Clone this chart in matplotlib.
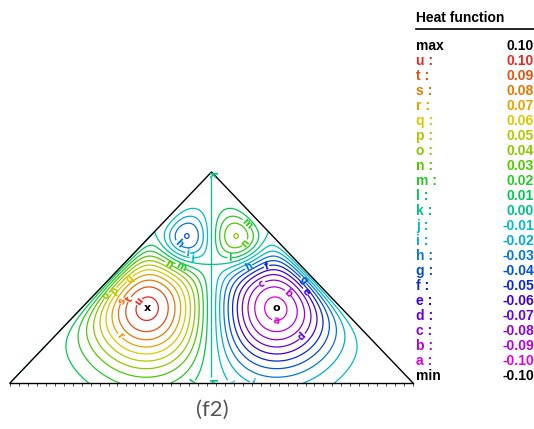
import numpy as np
import matplotlib.pyplot as plt
from matplotlib.lines import Line2D

# contour levels and their letter codes (a = -0.10 ... u = 0.10)
levels = [-0.10, -0.09, -0.08, -0.07, -0.06, -0.05, -0.04, -0.03, -0.02, -0.01,
          0.00, 0.01, 0.02, 0.03, 0.04, 0.05, 0.06, 0.07, 0.08, 0.09, 0.10]
letters = ["a", "b", "c", "d", "e", "f", "g", "h", "i", "j", "k",
           "l", "m", "n", "o", "p", "q", "r", "s", "t", "u"]
value_labels = ["-0.10", "-0.09", "-0.08", "-0.07", "-0.06", "-0.05", "-0.04", "-0.03",
                "-0.02", "-0.01", "0.00", "0.01", "0.02", "0.03", "0.04", "0.05",
                "0.06", "0.07", "0.08", "0.09", "0.10"]
colors = ["#dd00dd", "#b400dc", "#9000dc", "#6a00dc", "#3c00dc", "#0a28d2", "#0050dc",
          "#0078dc", "#00aadc", "#00bebe", "#00c08c", "#00c850", "#28c828", "#50c800",
          "#8cc800", "#b4c800", "#dcc800", "#e6a000", "#e67800", "#e65014", "#e6281e"]

# four cells (centre, strength, spread)
cell_x = [-0.315, 0.315, -0.14, 0.14]
cell_y = [0.36, 0.36, 0.685, 0.685]
cell_amp = [1.0, -1.0, -0.6, 0.6]
cell_sx = [0.22, 0.22, 0.105, 0.105]
cell_sy = [0.21, 0.21, 0.10, 0.10]
wall_layer = 0.05
peak_value = 0.104


def heat_field(X, Y):
    dl = np.clip(1 - Y + X, 0, None) / np.sqrt(2)
    dr = np.clip(1 - Y - X, 0, None) / np.sqrt(2)
    wall = (1 - np.exp(-dl / wall_layer)) * (1 - np.exp(-dr / wall_layer))
    s = np.zeros_like(X)
    for cx, cy, a, sx, sy in zip(cell_x, cell_y, cell_amp, cell_sx, cell_sy):
        s += a * np.exp(-((X - cx) ** 2 / (2 * sx ** 2) + (Y - cy) ** 2 / (2 * sy ** 2)))
    f = wall * s
    f = f * peak_value / f.max()
    inside = (Y <= 1 - np.abs(X))
    return np.ma.masked_where(~inside, f)


W, H = 534, 429
fig = plt.figure(figsize=(W / 100, H / 100), dpi=100)
ax = fig.add_axes([10 / W, (H - 383) / H, 403 / W, 211 / H])

x = np.linspace(-1, 1, 601)
y = np.linspace(0, 1, 301)
X, Y = np.meshgrid(x, y)
F = heat_field(X, Y)

cs = ax.contour(X, Y, F, levels=levels, colors=colors, linewidths=0.9)
fmt = {lv: lt for lv, lt in zip(cs.levels, letters)}
texts = ax.clabel(cs, fmt=fmt, fontsize=7, inline=True, inline_spacing=1)
for t in texts:
    t.set_fontweight("bold")

# extrema markers
iy, ix = np.unravel_index(np.argmax(F), F.shape)
ax.text(x[ix], y[iy], "x", ha="center", va="center", fontsize=8, fontweight="bold", color="black")
iy, ix = np.unravel_index(np.argmin(F), F.shape)
ax.text(x[ix], y[iy], "o", ha="center", va="center", fontsize=8, fontweight="bold", color="black")

# triangle walls
ax.plot([-1, 0, 1], [0, 1, 0], color="black", lw=1, clip_on=False)
ax.set_xlim(-1, 1)
ax.set_ylim(0, 1)
for side in ["top", "left", "right"]:
    ax.spines[side].set_visible(False)
ax.spines["bottom"].set_linewidth(1)
ax.set_xticks(np.linspace(-1, 1, 46))
ax.tick_params(axis="x", length=2, width=0.5, direction="out", labelbottom=False)
ax.set_yticks([])

fig.text(212 / W, 1 - 410 / H, "(f2)", ha="center", va="center", fontsize=16,
         color="#555555", family="Lato")

# legend panel on the right
lfont = dict(family="Liberation Sans", fontsize=10, fontweight="bold")
fig.text(416 / W, 1 - 18 / H, "Heat function", ha="left", va="center", **lfont)
fig.add_artist(Line2D([416 / W, 1], [1 - 29 / H, 1 - 29 / H], color="black", lw=1.2))

rows = [("max", "0.10", "black")]
for lt, vl, c in zip(letters[::-1], value_labels[::-1], colors[::-1]):
    rows.append((lt + " :", vl, c))
rows.append(("min", "-0.10", "black"))
for i, (name, val, c) in enumerate(rows):
    yy = 1 - (46 + 15 * i) / H
    fig.text(416 / W, yy, name, ha="left", va="center", color=c, **lfont)
    fig.text(534 / W, yy, val, ha="right", va="center", color=c, **lfont)

fig.savefig("out.png", dpi=100)
